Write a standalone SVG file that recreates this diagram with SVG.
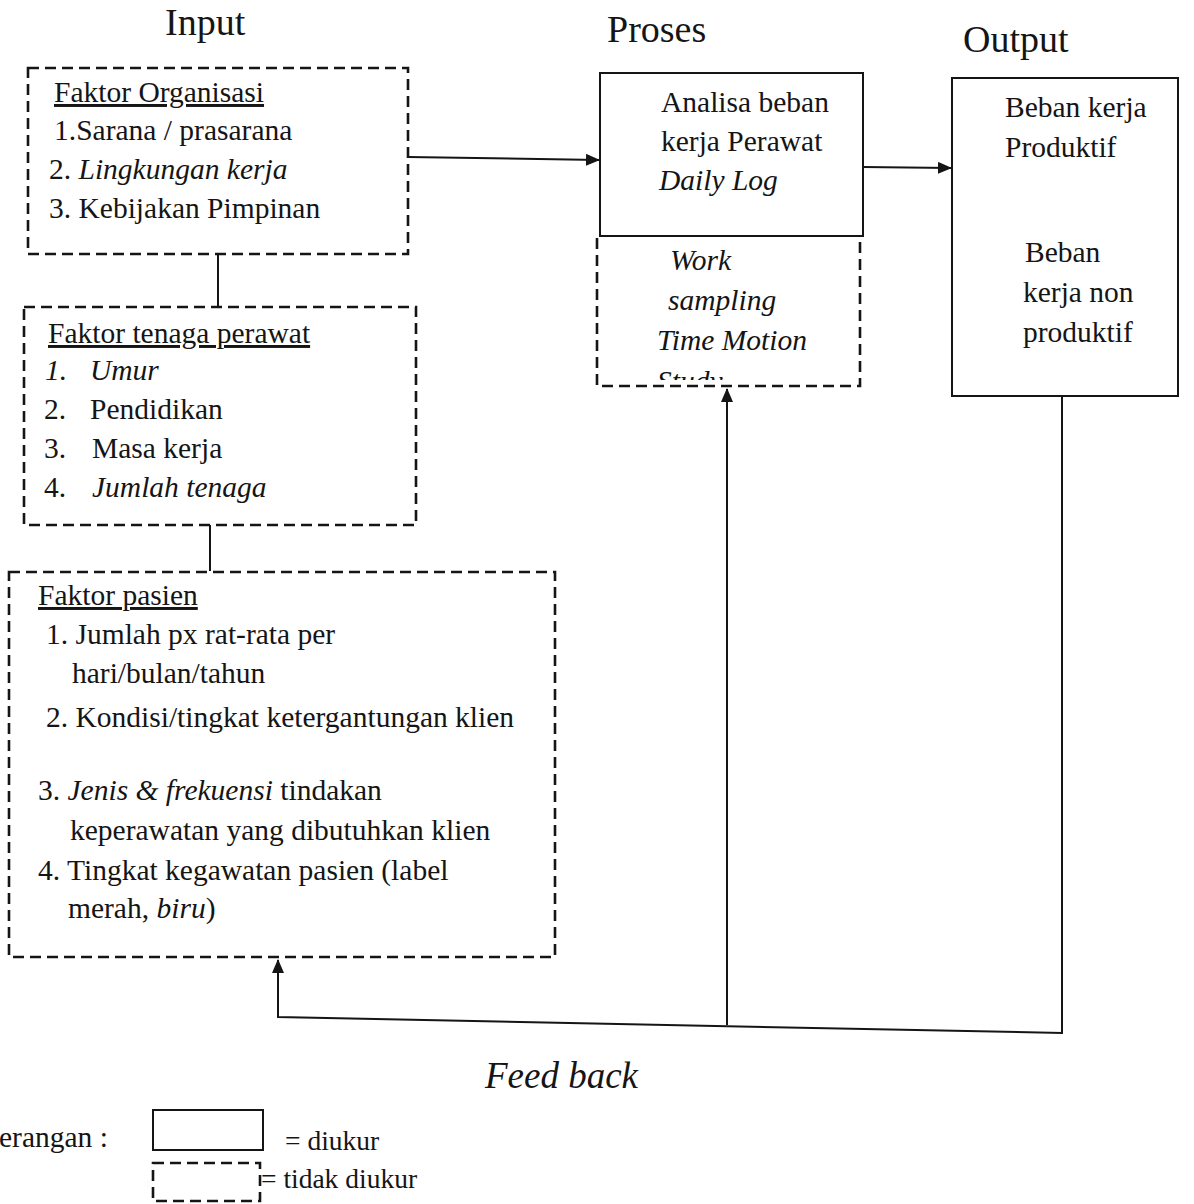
<svg xmlns="http://www.w3.org/2000/svg" width="1194" height="1204" viewBox="0 0 1194 1204">
<style>
text{font-family:"Liberation Serif","Times New Roman",serif;fill:#151515;font-size:29.5px}
.h{font-size:38px}
.i{font-style:italic}
.u{text-decoration:underline}
.lg{font-size:27.5px}
.dash{fill:none;stroke:#151515;stroke-width:2.6;stroke-dasharray:11 6}
.solid{fill:none;stroke:#151515;stroke-width:2}
.ln{fill:none;stroke:#151515;stroke-width:2}
</style>
<defs>
<marker id="arr" viewBox="0 0 14 12" refX="13" refY="6" markerWidth="14" markerHeight="12" markerUnits="userSpaceOnUse" orient="auto">
<path d="M0,0 L14,6 L0,12 Z" fill="#151515"/>
</marker>
<clipPath id="clipStudy"><rect x="600" y="240" width="258" height="140"/></clipPath>
</defs>
<rect width="1194" height="1204" fill="#ffffff"/>

<g id="headings">
<text class="h" x="165" y="35">Input</text>
<text class="h" x="607" y="42">Proses</text>
<text class="h" x="963" y="52">Output</text>
</g>

<g id="connectors">
<line class="ln" x1="218" y1="254" x2="218" y2="307"/>
<line class="ln" x1="210" y1="525" x2="210" y2="571"/>
<line class="ln" x1="408" y1="157" x2="599" y2="160" marker-end="url(#arr)"/>
<line class="ln" x1="863" y1="167" x2="951" y2="168" marker-end="url(#arr)"/>
<polyline class="ln" points="1062,396 1062,1033 278,1017 278,960" marker-end="url(#arr)"/>
<line class="ln" x1="727" y1="1025" x2="727" y2="389" marker-end="url(#arr)"/>
<text class="i" x="485" y="1088" style="font-size:37px">Feed back</text>
</g>

<g id="faktor-organisasi">
<rect class="dash" x="28" y="68" width="380" height="186"/>
<text class="u" x="54" y="102">Faktor Organisasi</text>
<text x="54" y="140">1.Sarana / prasarana</text>
<text x="49" y="179">2. <tspan class="i">Lingkungan kerja</tspan></text>
<text x="49" y="218">3. Kebijakan Pimpinan</text>
</g>

<g id="faktor-tenaga-perawat">
<rect class="dash" x="24" y="307" width="392" height="218"/>
<text class="u" x="48" y="343">Faktor tenaga perawat</text>
<text class="i" x="45" y="380">1.</text><text class="i" x="90" y="380">Umur</text>
<text x="44" y="419">2.</text><text x="90" y="419">Pendidikan</text>
<text x="44" y="458">3.</text><text x="92" y="458">Masa kerja</text>
<text x="44" y="497">4.</text><text class="i" x="92" y="497">Jumlah tenaga</text>
</g>

<g id="faktor-pasien">
<rect class="dash" x="9" y="572" width="546" height="385"/>
<text class="u" x="38" y="605">Faktor pasien</text>
<text x="46" y="644">1. Jumlah px rat-rata per</text>
<text x="72" y="683">hari/bulan/tahun</text>
<text x="46" y="727">2. Kondisi/tingkat ketergantungan klien</text>
<text x="38" y="800">3. <tspan class="i">Jenis &amp; frekuensi</tspan> tindakan</text>
<text x="70" y="840">keperawatan yang dibutuhkan klien</text>
<text x="38" y="880">4. Tingkat kegawatan pasien (label</text>
<text x="68" y="918">merah, <tspan class="i">biru</tspan>)</text>
</g>

<g id="proses">
<rect class="solid" x="600" y="73" width="263" height="163"/>
<path class="dash" d="M597,238 V386 H860 V238"/>
<text x="661" y="112">Analisa beban</text>
<text x="661" y="151">kerja Perawat</text>
<text class="i" x="659" y="190">Daily Log</text>
<text class="i" x="670" y="270">Work</text>
<text class="i" x="668" y="310">sampling</text>
<text class="i" x="657" y="350">Time Motion</text>
<text class="i" x="657" y="391" clip-path="url(#clipStudy)">Study</text>
</g>

<g id="output">
<rect class="solid" x="952" y="78" width="226" height="318"/>
<text x="1005" y="117">Beban kerja</text>
<text x="1005" y="157">Produktif</text>
<text x="1025" y="262">Beban</text>
<text x="1023" y="302">kerja non</text>
<text x="1023" y="342">produktif</text>
</g>

<g id="legend">
<text x="-1" y="1147">erangan :</text>
<rect class="solid" x="153" y="1110" width="110" height="40"/>
<text class="lg" x="285" y="1150">= diukur</text>
<rect class="dash" x="153" y="1163" width="107" height="38"/>
<text class="lg" x="261" y="1188">= tidak diukur</text>
</g>
</svg>
